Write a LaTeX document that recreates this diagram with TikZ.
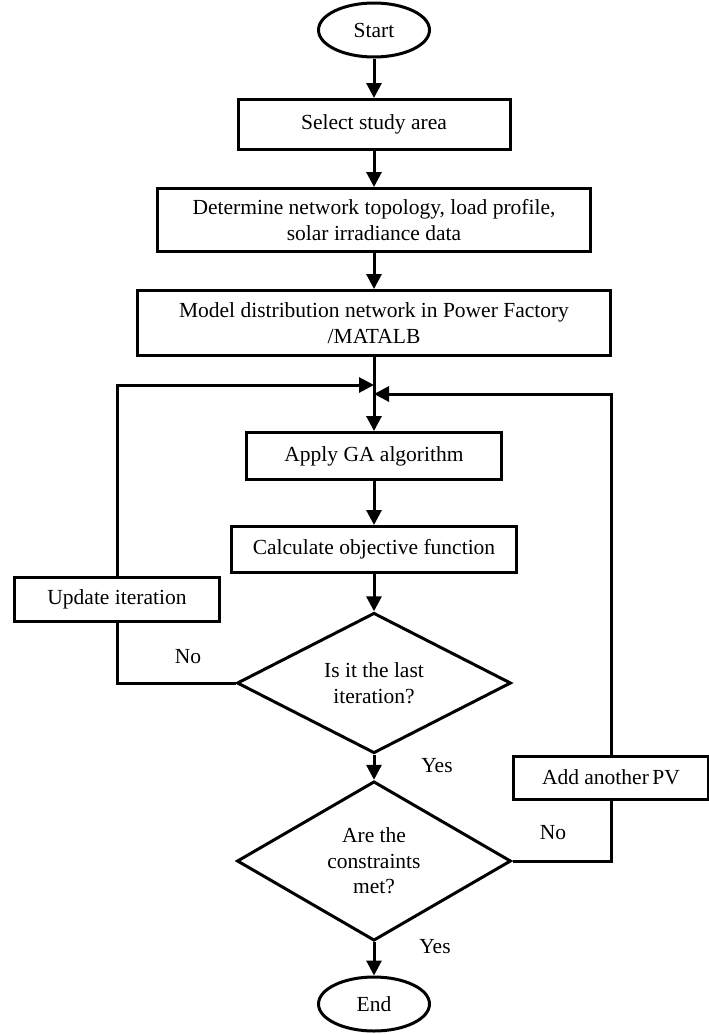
\documentclass[tikz,border=0pt]{standalone}
\usepackage{fontspec}
\setmainfont{Liberation Serif}
\usetikzlibrary{shapes.geometric,arrows.meta}
\begin{document}
\begin{tikzpicture}[x=1pt,y=-1pt,
  every node/.style={font=\fontsize{21.5}{25.5}\selectfont, inner sep=0pt},
  proc/.style={draw, line width=3pt, rectangle, align=center},
  term/.style={draw, line width=3pt, ellipse, minimum width=111pt, minimum height=54pt},
  dec/.style={draw, line width=3pt, diamond, align=center},
  flow/.style={line width=3pt, -{Triangle[width=15pt,length=15pt]}},
  link/.style={line width=3pt}]
\useasboundingbox (0,0) rectangle (709,1034);

\node[term] (start) at (374,30) {Start};
\node[proc, minimum width=272pt, minimum height=50pt] (select) at (374,124.5) {Select study area};
\node[proc, minimum width=433pt, minimum height=63pt] (determine) at (374,220) {Determine network topology, load profile,\\solar irradiance data};
\node[proc, minimum width=473pt, minimum height=65pt] (model) at (374,323) {Model distribution network in Power Factory\\/MATALB};
\node[proc, minimum width=255pt, minimum height=47pt] (apply) at (374,456) {Apply GA algorithm};
\node[proc, minimum width=285pt, minimum height=46pt] (calc) at (374,549.5) {Calculate objective function};
\node[proc, minimum width=205pt, minimum height=44pt] (update) at (117,599.5) {Update iteration};
\node[dec, minimum width=274pt, minimum height=117pt] (last) at (374,683) {Is it the last\\iteration?};
\node[dec, minimum width=274pt, minimum height=140pt] (cons) at (374,861) {Are the\\constraints\\met?};
\node[proc, minimum width=195pt, minimum height=43pt] (addpv) at (611,777.5) {Add another\,PV};
\node[term] (end) at (374,1004) {End};

\node (no1) at (188,657) {No};
\node (yes1) at (437,766) {Yes};
\node (no2) at (553,833) {No};
\node (yes2) at (435,947) {Yes};

\draw[flow] (start) -- (select);
\draw[flow] (select) -- (determine);
\draw[flow] (determine) -- (model);
\draw[flow] (model) -- (apply);
\draw[flow] (apply) -- (calc);
\draw[flow] (calc) -- (last);
\draw[flow] (last) -- (cons);
\draw[flow] (cons) -- (end);

\coordinate (mL) at (374,385);
\coordinate (mR) at (374,394);
\draw[link] (last.west) -| (update.south);
\draw[flow] (update.north) |- (mL);
\draw[link] (cons.east) -| (addpv.south);
\draw[flow] (addpv.north) |- (mR);
\end{tikzpicture}
\end{document}
